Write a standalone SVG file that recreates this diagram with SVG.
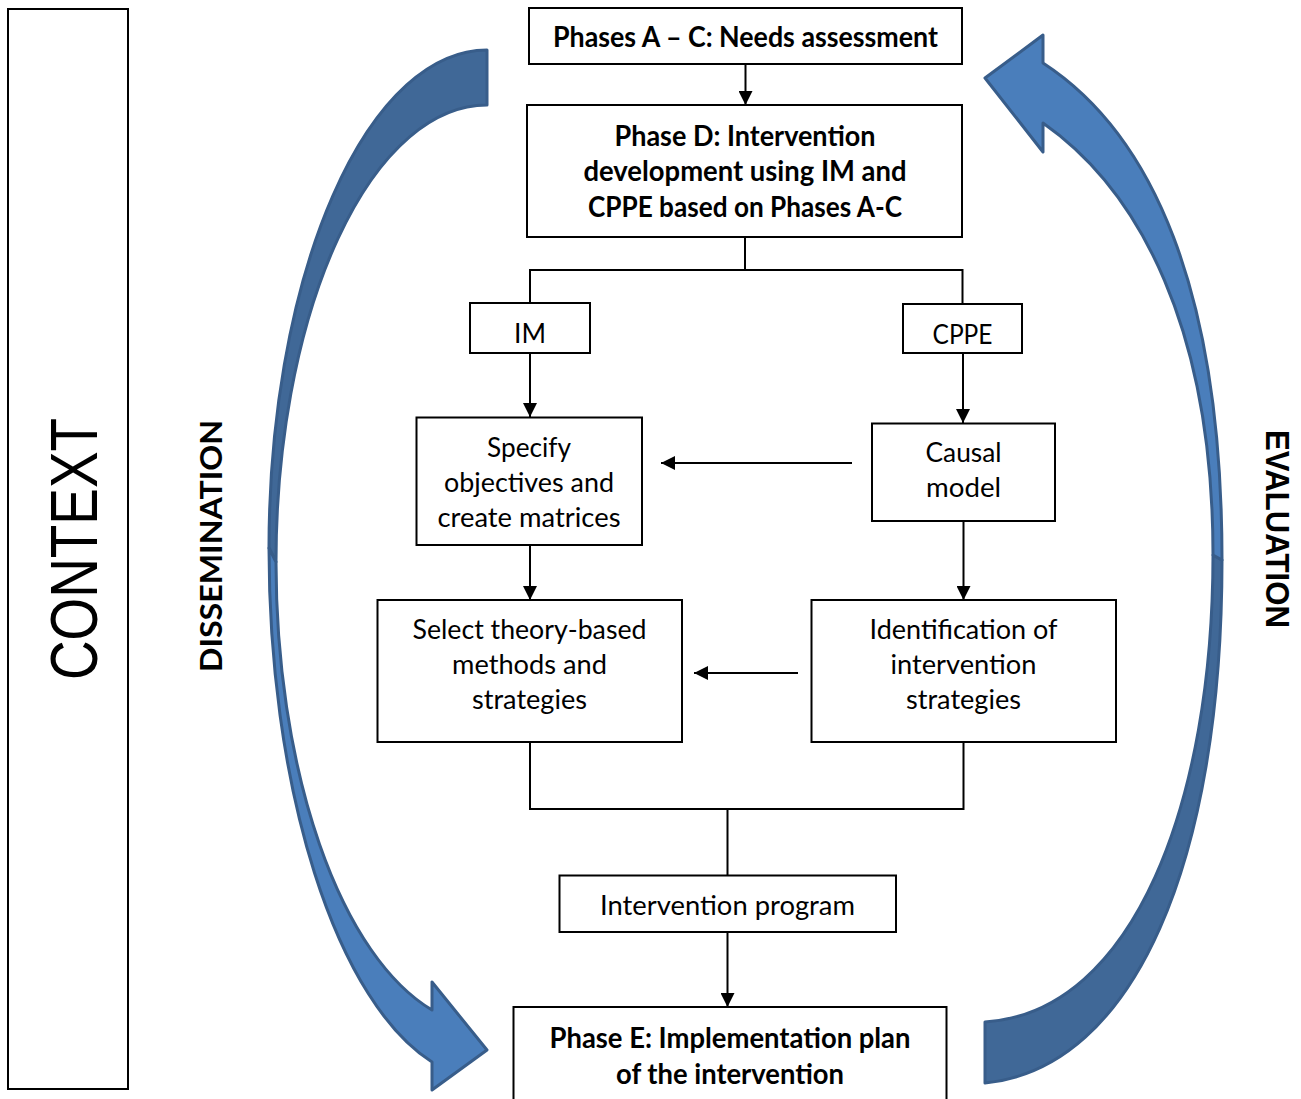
<svg xmlns="http://www.w3.org/2000/svg" width="1301" height="1099" viewBox="0 0 1301 1099">
  <style>
    .box { fill: #ffffff; stroke: #000000; stroke-width: 2; }
    .reg { font-family: Lato, "Open Sans", "DejaVu Sans", sans-serif; font-size: 27px; fill: #000000; text-anchor: middle; }
    .bold { font-family: Lato, "Open Sans", "DejaVu Sans", sans-serif; font-size: 29px; font-weight: bold; fill: #000000; text-anchor: middle; }
    .side { font-family: Lato, "Open Sans", "DejaVu Sans", sans-serif; font-size: 31px; font-weight: bold; fill: #000000; text-anchor: middle; }
    .eval { font-family: "Liberation Sans", Arial, sans-serif; font-size: 34px; font-weight: bold; fill: #000000; text-anchor: middle; }
    .ctx { font-family: "Liberation Sans", Arial, sans-serif; font-size: 66px; fill: #000000; text-anchor: middle; }
    .link { fill: none; stroke: #000000; stroke-width: 2; }
    .back { fill: #406897; stroke: #385D8A; stroke-width: 3; stroke-linejoin: round; }
    .front { fill: #4A7EBB; stroke: #385D8A; stroke-width: 3; stroke-linejoin: round; }
  </style>
  <defs>
    <marker id="head" viewBox="0 0 14 14" refX="14" refY="7" markerWidth="14" markerHeight="14" markerUnits="userSpaceOnUse" orient="auto">
      <path d="M0,0 L14,7 L0,14 Z" fill="#000000"/>
    </marker>
  </defs>

  <rect width="1301" height="1099" fill="#ffffff"/>

  <!-- context panel -->
  <g id="context">
    <rect class="box" x="8" y="9" width="120" height="1080"/>
    <text class="ctx" transform="translate(97,549) rotate(-90)" textLength="262" lengthAdjust="spacingAndGlyphs">CONTEXT</text>
  </g>

  <!-- dissemination: curved arrow from the needs assessment down to the implementation plan -->
  <g id="dissemination">
    <path class="back" d="M487,50 A218,498 0 0 0 269,548 L276,562 A211,457 0 0 1 487,105 Z"/>
    <path class="front" d="M269,548 A218,531 0 0 0 432,1062 L432,1090 L487,1050 L432,982 L432,1010 A211,464 0 0 1 276,562 Z"/>
    <text class="side" transform="translate(222,546) rotate(-90)" textLength="252" lengthAdjust="spacingAndGlyphs">DISSEMINATION</text>
  </g>

  <!-- evaluation: curved arrow from the implementation plan back up to the needs assessment -->
  <g id="evaluation">
    <path class="back" d="M1222,560 C1222,860 1135,1068 985,1083 L985,1022 C1135,1012 1213,800 1213,555 Z"/>
    <path class="front" d="M1222,560 C1222,290 1152,134 1043,63 L1043,35 L985,78 L1043,152 L1043,123 C1140,191 1213,330 1213,555 Z"/>
    <text class="eval" transform="translate(1266,529) rotate(90)" textLength="198" lengthAdjust="spacingAndGlyphs">EVALUATION</text>
  </g>

  <!-- connectors -->
  <g id="connectors">
    <line class="link" x1="745.5" y1="64" x2="745.5" y2="105" marker-end="url(#head)"/>
    <path class="link" d="M745,237 V270 M530,270 H963 M530,269 V303 M962.5,269 V304"/>
    <line class="link" x1="530" y1="353" x2="530" y2="417" marker-end="url(#head)"/>
    <line class="link" x1="963" y1="353" x2="963" y2="423" marker-end="url(#head)"/>
    <line class="link" x1="852" y1="463" x2="661" y2="463" marker-end="url(#head)"/>
    <line class="link" x1="530" y1="545" x2="530" y2="600" marker-end="url(#head)"/>
    <line class="link" x1="963.5" y1="521" x2="963.5" y2="600" marker-end="url(#head)"/>
    <line class="link" x1="798" y1="673" x2="694" y2="673" marker-end="url(#head)"/>
    <path class="link" d="M530,742 V809 H963.5 V742 M727.5,809 V875"/>
    <line class="link" x1="727.5" y1="932" x2="727.5" y2="1007" marker-end="url(#head)"/>
  </g>

  <!-- nodes -->
  <g id="needs-assessment">
    <rect class="box" x="529" y="8" width="433" height="56"/>
    <text class="bold" x="745.5" y="47" textLength="385" lengthAdjust="spacingAndGlyphs">Phases A – C: Needs assessment</text>
  </g>

  <g id="intervention-development">
    <rect class="box" x="527" y="105" width="435" height="132"/>
    <text class="bold" x="745" y="145.5" textLength="261" lengthAdjust="spacingAndGlyphs">Phase D: Intervention</text>
    <text class="bold" x="745" y="181" textLength="323" lengthAdjust="spacingAndGlyphs">development using IM and</text>
    <text class="bold" x="745" y="216.5" textLength="314" lengthAdjust="spacingAndGlyphs">CPPE based on Phases A-C</text>
  </g>

  <g id="im">
    <rect class="box" x="470" y="303" width="120" height="50"/>
    <text class="reg" x="530" y="343" textLength="32" lengthAdjust="spacingAndGlyphs">IM</text>
  </g>

  <g id="cppe">
    <rect class="box" x="903" y="304" width="119" height="49"/>
    <text class="reg" x="962.5" y="343.5" textLength="60" lengthAdjust="spacingAndGlyphs">CPPE</text>
  </g>

  <g id="specify-objectives">
    <rect class="box" x="416.5" y="417.5" width="225.5" height="127.5"/>
    <text class="reg" x="529" y="457" textLength="84" lengthAdjust="spacingAndGlyphs">Specify</text>
    <text class="reg" x="529" y="492" textLength="170" lengthAdjust="spacingAndGlyphs">objectives and</text>
    <text class="reg" x="529" y="527" textLength="183" lengthAdjust="spacingAndGlyphs">create matrices</text>
  </g>

  <g id="causal-model">
    <rect class="box" x="872" y="423.5" width="183" height="97.5"/>
    <text class="reg" x="963.5" y="462" textLength="76" lengthAdjust="spacingAndGlyphs">Causal</text>
    <text class="reg" x="963.5" y="497" textLength="75" lengthAdjust="spacingAndGlyphs">model</text>
  </g>

  <g id="select-methods">
    <rect class="box" x="377.5" y="600" width="304.5" height="142"/>
    <text class="reg" x="529.5" y="638.5" textLength="234" lengthAdjust="spacingAndGlyphs">Select theory-based</text>
    <text class="reg" x="529.5" y="673.5" textLength="155" lengthAdjust="spacingAndGlyphs">methods and</text>
    <text class="reg" x="529.5" y="708.5" textLength="115" lengthAdjust="spacingAndGlyphs">strategies</text>
  </g>

  <g id="identify-strategies">
    <rect class="box" x="811.5" y="600" width="304.5" height="142"/>
    <text class="reg" x="963.5" y="638.5" textLength="188" lengthAdjust="spacingAndGlyphs">Identification of</text>
    <text class="reg" x="963.5" y="673.5" textLength="146" lengthAdjust="spacingAndGlyphs">intervention</text>
    <text class="reg" x="963.5" y="708.5" textLength="115" lengthAdjust="spacingAndGlyphs">strategies</text>
  </g>

  <g id="intervention-program">
    <rect class="box" x="559.5" y="875.5" width="336.5" height="56.5"/>
    <text class="reg" x="727.5" y="915" textLength="255" lengthAdjust="spacingAndGlyphs">Intervention program</text>
  </g>

  <g id="implementation-plan">
    <rect class="box" x="513.5" y="1007" width="433" height="110"/>
    <text class="bold" x="730" y="1047.5" textLength="361" lengthAdjust="spacingAndGlyphs">Phase E: Implementation plan</text>
    <text class="bold" x="730" y="1083.5" textLength="228" lengthAdjust="spacingAndGlyphs">of the intervention</text>
  </g>
</svg>
